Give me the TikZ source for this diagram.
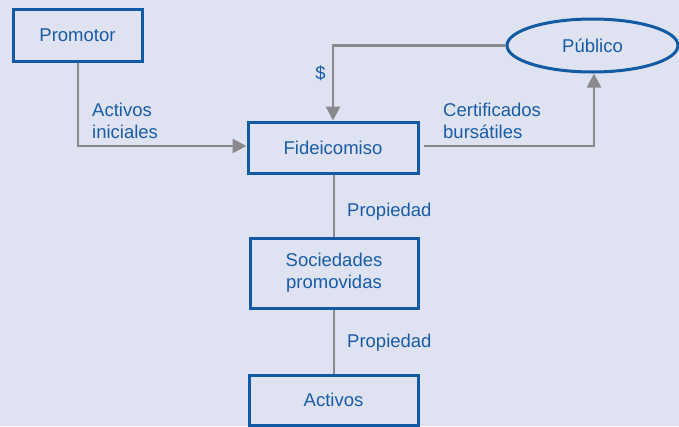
\documentclass[tikz,border=0pt]{standalone}
\usepackage{fontspec}
\setmainfont{Liberation Sans}
\usetikzlibrary{arrows.meta,shapes.geometric}
\definecolor{bg}{RGB}{223,226,240}
\definecolor{bord}{RGB}{18,90,164}
\definecolor{txt}{RGB}{24,92,168}
\definecolor{conn}{RGB}{138,138,142}
\begin{document}
\begin{tikzpicture}[x=1pt,y=-1pt,
  every node/.style={font=\fontsize{18.5}{22}\selectfont, text=txt},
  box/.style={draw=bord, line width=3pt, rectangle, inner sep=0pt, align=center},
  oval/.style={draw=bord, line width=3pt, ellipse, inner sep=0pt},
  lab/.style={inner sep=0pt, align=left},
  link/.style={draw=conn, line width=2.6pt},
  arr/.style={link, -{Triangle[length=14pt,width=14pt]}}]
\fill[bg] (0,0) rectangle (679,426);
\useasboundingbox (0,0) rectangle (679,426);
\node[box, minimum width=129pt, minimum height=52pt] (prom) at (77.5,35) {Promotor};
\node[box, minimum width=170pt, minimum height=51pt] (fid) at (333,147.5) {Fideicomiso};
\node[box, minimum width=168pt, minimum height=70pt] (soc) at (334,273) {Sociedades\\promovidas};
\node[box, minimum width=169pt, minimum height=50pt] (act) at (333.5,400) {Activos};
\node[oval, minimum width=171pt, minimum height=53pt] (pub) at (592.5,45.5) {Público};
\coordinate (c1) at (78,146);
\coordinate (c2) at (333,45.5);
\coordinate (c3) at (424,146);
\coordinate (c4) at (594,146);
\draw[arr] (prom.south -| c1) -- (c1) -- (fid.west |- c1);
\draw[arr] (pub.west) -- (c2) -- (fid.north);
\draw[arr] (c3) -- (c4) -- (pub.south -| c4);
\draw[link] (fid.south -| soc.north) -- (soc.north);
\draw[link] (soc.south) -- (act.north -| soc.south);
\node[lab, anchor=west] (l1) at (92,120.5) {Activos\\iniciales};
\node[lab, anchor=west] (l2) at (443,120.5) {Certificados\\bursátiles};
\node[lab] (l3) at (320.5,73.5) {\$};
\node[lab, anchor=base west] (l4) at (347,216) {Propiedad};
\node[lab, anchor=base west] (l5) at (347,347) {Propiedad};
\end{tikzpicture}
\end{document}
